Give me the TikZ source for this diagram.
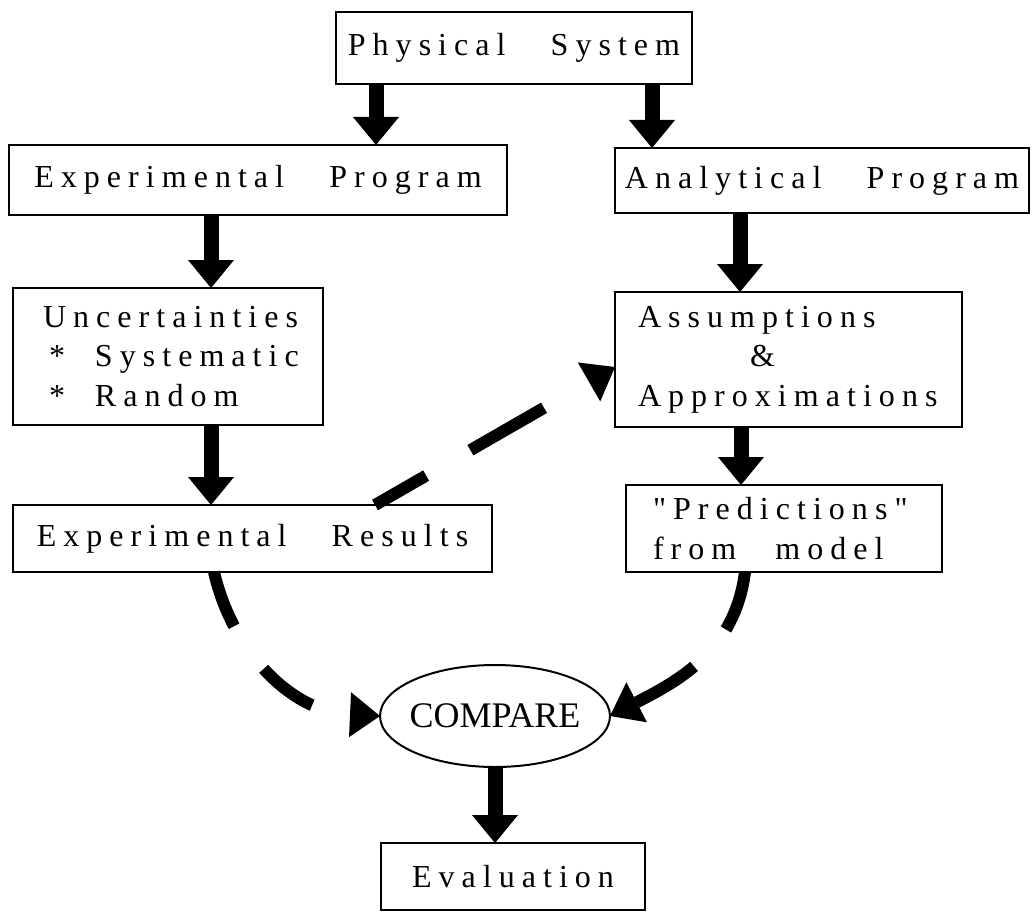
\documentclass[tikz,border=0pt]{standalone}
\usepackage{fontspec}
\setmainfont{Liberation Serif}
\newfontfamily\spacedfont[LetterSpace=22,WordSpace=3]{Liberation Serif}
\usepackage{tikz}
\usetikzlibrary{calc,arrows.meta,shapes.geometric}
\definecolor{ink}{HTML}{000000}
\tikzset{
  box/.style={draw=ink, line width=2pt, rectangle, inner sep=0pt, outer sep=0pt,
    font=\spacedfont\fontsize{32}{39.5}\selectfont},
  leftbox/.style={box, align=left},
  oval/.style={draw=ink, line width=2pt, ellipse, inner sep=0pt, outer sep=0pt,
    font=\fontsize{36}{40}\selectfont},
  flow/.style={draw=ink, line width=15pt, -{Triangle[width=46pt,length=28pt,line width=0pt]}},
  dashflow/.style={draw=ink, line width=12pt, -{Triangle[width=45pt,length=30pt,line width=0pt]}},
}

\begin{document}
\begin{tikzpicture}[x=1pt,y=-1pt]
  \useasboundingbox (0,0) rectangle (1032,912);
  % boxes
  \node[box, minimum width=356pt, minimum height=72pt] (phys) at (514,48) {Physical System};
  \node[box, minimum width=498pt, minimum height=70pt] (expprog) at (258,180) {Experimental Program};
  \node[box, minimum width=414pt, minimum height=65pt] (anal) at (822,180.5) {Analytical Program};
  \node[leftbox, text width=250pt, inner xsep=30pt, minimum height=137pt] (uncert) at (168,356.5)
    {Uncertainties\\\hspace*{6pt}*\hspace{30pt}Systematic\\\hspace*{6pt}*\hspace{30pt}Random};
  \node[leftbox, text width=301pt, inner xsep=23pt, minimum height=135pt] (assum) at (788.5,359.5)
    {Assumptions\\\hspace*{112pt}\&\\Approximations};
  \node[box, minimum width=479pt, minimum height=67pt] (results) at (252.5,538.5) {Experimental Results};
  \node[leftbox, text width=262pt, inner xsep=27pt, minimum height=87pt] (pred) at (784,528.5)
    {"Predictions"\\from\hspace{39pt}model};
  \node[oval, minimum width=230pt, minimum height=102pt] (compare) at (495,716) {\makebox[0pt]{COMPARE}};
  \node[box, minimum width=264pt, minimum height=67pt] (eval) at (513,876.5) {Evaluation};
  % solid arrows
  \draw[flow] (376,0 |- phys.south) -- (376,0 |- expprog.north);
  \draw[flow] (652,0 |- phys.south) -- (652,0 |- anal.north);
  \draw[flow] (211,0 |- expprog.south) -- (211,0 |- uncert.north);
  \draw[flow] (211,0 |- uncert.south) -- (211,0 |- results.north);
  \draw[flow] (740,0 |- anal.south) -- (740,0 |- assum.north);
  \draw[flow] (741,0 |- assum.south) -- (741,0 |- pred.north);
  \draw[flow] (compare.south) -- (compare.south |- eval.north);
  % dashed arrows
  \draw[dashflow, dash pattern=on 59pt off 51pt on 85pt off 60pt]
    (375,0 |- results.north) -- (assum.west |- 0,367);
  \draw[dashflow, dash pattern=on 58pt off 52pt on 61pt off 60pt]
    (214,0 |- results.south) .. controls (232,650) and (290,712) .. (compare.west);
  \draw[dashflow, dash pattern=on 61pt off 49pt on 300pt off 0pt]
    (745,0 |- pred.south) .. controls (735,650) and (680,680) .. (compare.east);
\end{tikzpicture}
\end{document}
